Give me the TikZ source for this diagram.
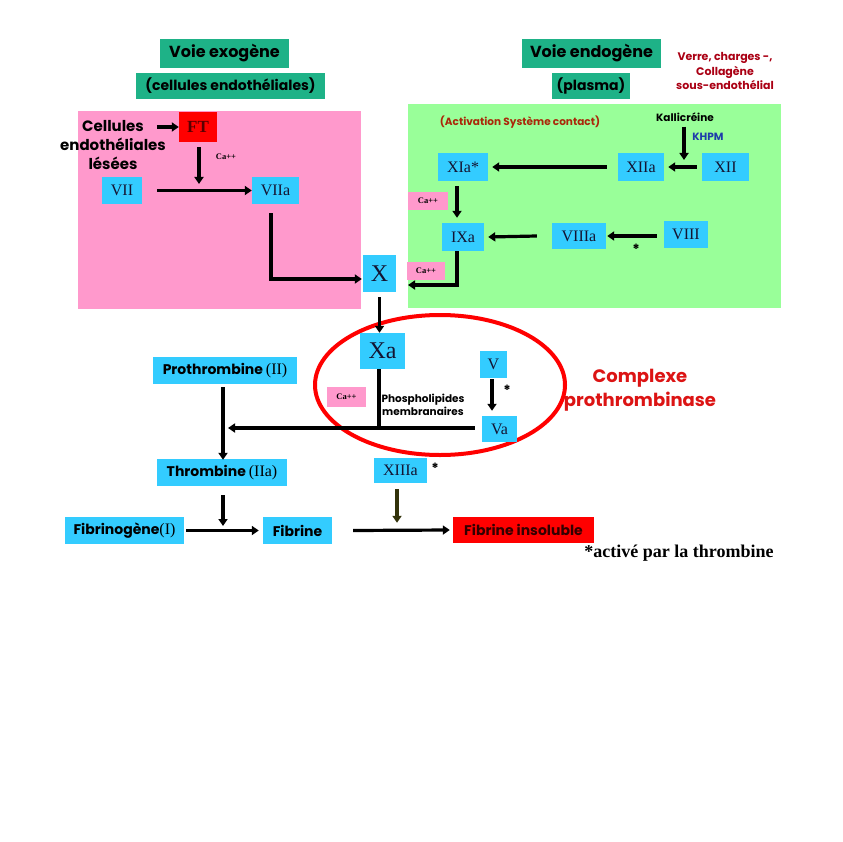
\documentclass[tikz,border=0pt]{standalone}
\usepackage{fontspec}
\setmainfont{Liberation Serif}
\newfontfamily\comic{Poppins}
\usetikzlibrary{arrows.meta}
\definecolor{teal1}{RGB}{30,178,135}
\definecolor{pink1}{RGB}{255,153,204}
\definecolor{green1}{RGB}{153,255,153}
\definecolor{blue1}{RGB}{51,204,255}
\definecolor{red1}{RGB}{255,0,0}
\definecolor{dred}{RGB}{170,0,20}
\definecolor{brred}{RGB}{170,40,10}
\definecolor{cred}{RGB}{220,20,20}
\definecolor{navy1}{RGB}{20,20,50}
\definecolor{olive1}{RGB}{50,50,10}
\definecolor{khblue}{RGB}{30,60,170}
\definecolor{ftred}{RGB}{90,0,0}
\newcommand{\fs}[1]{\fontsize{#1}{#1}\selectfont}
\tikzset{
  titlebox/.style={fill=teal1, inner sep=0pt, font=\comic\bfseries\fs{16}},
  subbox/.style={fill=teal1, inner sep=0pt, font=\comic\bfseries\fs{14}},
  bbox/.style={fill=blue1, inner sep=0pt, text=navy1, font=\fs{16}},
  cbox/.style={fill=blue1, inner sep=0pt, text=black, font=\comic\bfseries\fs{14}},
  cabox/.style={fill=pink1, inner sep=0pt, font=\bfseries\fs{8.5}},
  arr/.style={line width=3.2pt, -{Triangle[length=7pt,width=9pt]}},
  plain/.style={line width=3.2pt},
  lbl/.style={inner sep=0pt, align=center},
}
\begin{document}
\begin{tikzpicture}[x=1pt,y=-1pt]
\useasboundingbox (0,0) rectangle (842,842);
% backgrounds
\fill[pink1] (78,111) rectangle (361,309);
\fill[green1] (408,104) rectangle (781,308);
% titles
\node[titlebox, minimum width=129pt, minimum height=29pt] (exo) at (224.5,53.5) {Voie exogène};
\node[subbox, minimum width=189pt, minimum height=26pt] (cellend) at (230.5,86) {(cellules endothéliales)};
\node[titlebox, minimum width=139pt, minimum height=29pt] (endo) at (591.5,53.5) {Voie endogène};
\node[subbox, minimum width=78pt, minimum height=26pt] (plasma) at (591,86) {(plasma)};
\node[lbl, text=dred, font=\comic\bfseries\fs{11}] (verre) at (725,71) {Verre, charges -,\\[1pt]Collagène\\[1pt]sous-endothélial};
% left pathway
\node[lbl, font=\comic\bfseries\fs{15}] (cel) at (113,145) {Cellules\\[4pt]endothéliales\\[4pt]lésées};
\node[fill=red1, inner sep=0pt, minimum width=38pt, minimum height=30pt, text=ftred, font=\bfseries\fs{17}] (FT) at (198,127) {FT};
\node[lbl, font=\bfseries\fs{8.5}] (ca0) at (226,157) {Ca++};
\node[bbox, minimum width=40pt, minimum height=27pt] (VII) at (122,190.5) {VII};
\node[bbox, minimum width=47pt, minimum height=27pt] (VIIa) at (275.5,190.5) {VIIa};
\node[bbox, minimum width=33pt, minimum height=37pt, font=\fs{24}] (X) at (379.5,273.5) {X};
\coordinate (j1) at (199,190);
\draw[arr] ([xshift=-22pt]FT.west) -- (FT.west);
\draw[arr] ([yshift=-5pt]FT.south -| j1) -- ([yshift=6pt]j1);
\draw[arr] ([xshift=15pt]VII.east) -- (VIIa.west);
\draw[arr] ([xshift=-4.5pt,yshift=-9pt]VIIa.south) |- ([yshift=-5.5pt,xshift=-1pt]X.west);
% right pathway
\node[lbl, text=brred, font=\comic\bfseries\fs{10.5}] (act) at (520,122) {(Activation Système contact)};
\node[lbl, font=\comic\bfseries\fs{10.5}] (kal) at (685,117) {Kallicréine};
\node[lbl, text=khblue, font=\comic\bfseries\fs{10.5}] (khpm) at (708,137) {KHPM};
\node[bbox, minimum width=50pt, minimum height=28pt] (XIa) at (463,167) {XIa*};
\node[bbox, minimum width=46pt, minimum height=28pt] (XIIa) at (641,167) {XIIa};
\node[bbox, minimum width=47pt, minimum height=28pt] (XII) at (725.5,167) {XII};
\node[cabox, minimum width=40pt, minimum height=18pt] (ca1) at (428,201) {Ca++};
\node[bbox, minimum width=42pt, minimum height=28pt] (IXa) at (463,237) {IXa};
\node[bbox, minimum width=54pt, minimum height=26pt] (VIIIa) at (579,236) {VIIIa};
\node[bbox, minimum width=44pt, minimum height=27pt] (VIII) at (686,234.5) {VIII};
\node[cabox, minimum width=38pt, minimum height=18pt] (ca2) at (426,271) {Ca++};
\node[lbl, font=\comic\bfseries\fs{14}] (st1) at (636,249) {*};
\coordinate (kend) at (684,160);
\coordinate (xin) at (408,285);
\draw[arr] (kal.south -| kend) ++(0,-5pt) -- (kend);
\draw[arr] ([xshift=-5pt]XII.west) -- ([xshift=4pt]XIIa.east);
\draw[arr] ([xshift=-11pt]XIIa.west) -- ([xshift=4pt]XIa.east);
\draw[arr] ([xshift=-6pt,yshift=-5pt]XIa.south) -- ([xshift=-6pt,yshift=5pt]XIa.south |- IXa.north);
\draw[arr] ([xshift=-15pt]VIIIa.west) -- ([xshift=4pt]IXa.east);
\draw[arr] ([xshift=-7pt]VIII.west |- VIIIa.west) -- ([xshift=1pt]VIIIa.east);
\draw[arr] ([xshift=-6pt]IXa.south) |- (xin);
% prothrombinase complex
\draw[line width=4pt, red1] (440,385) ellipse [x radius=125, y radius=70];
\node[bbox, minimum width=45pt, minimum height=36pt, font=\fs{24}] (Xa) at (382.5,351) {Xa};
\draw[arr] ([yshift=-5pt]X.south) -- (X.south |- Xa.north);
\node[cbox, minimum width=144pt, minimum height=27pt] (proth) at (225,370.5) {Prothrombine {\rmfamily\mdseries\fs{16}(II)}};
\node[cabox, minimum width=39pt, minimum height=20pt] (ca3) at (346.5,397) {Ca++};
\node[lbl, font=\comic\bfseries\fs{10.5}] (phos) at (423,405) {Phospholipides\\[1pt]membranaires};
\node[bbox, minimum width=27pt, minimum height=27pt] (V) at (493.5,364.5) {V};
\node[bbox, minimum width=35pt, minimum height=26pt] (Va) at (499.5,429) {Va};
\node[lbl, font=\comic\bfseries\fs{14}] (st2) at (507,390) {*};
\node[lbl, text=cred, font=\comic\bfseries\fs{18}] (cplx) at (640,390) {Complexe\\[4pt]prothrombinase};
\coordinate (jx) at (379,428);
\coordinate (pl) at (228,428);
\draw[plain] ([xshift=-3.5pt]Xa.south) -- (jx);
\draw[arr] ([xshift=-7pt]Va.west |- jx) -- (pl);
\draw[arr] ([xshift=-1.5pt,yshift=-1pt]V.south) -- ([xshift=-7.5pt,yshift=5pt]Va.north);
% bottom
\node[cbox, minimum width=130pt, minimum height=27pt] (thr) at (222,472.5) {Thrombine {\rmfamily\mdseries\fs{16}(IIa)}};
\node[bbox, minimum width=53pt, minimum height=25pt] (XIIIa) at (400.5,470.5) {XIIIa};
\node[lbl, font=\comic\bfseries\fs{14}] (st3) at (435,468) {*};
\node[cbox, minimum width=119pt, minimum height=27pt] (fibg) at (124.5,530.5) {Fibrinogène{\rmfamily\mdseries\fs{16}(I)}};
\node[cbox, minimum width=69pt, minimum height=27pt] (fib) at (297.5,530.5) {Fibrine};
\node[fill=red1, inner sep=0pt, minimum width=141pt, minimum height=26pt, font=\comic\bfseries\fs{14}, text=black!80!red] (fibi) at (523.5,530) {Fibrine insoluble};
\node[lbl, font=\bfseries\fs{18}] (note) at (679,553) {*activé par la thrombine};
\coordinate (j2) at (223,531);
\draw[arr] (proth.south -| j2) ++(0,-3pt) -- ([yshift=-1pt]thr.north -| j2);
\draw[arr] ([yshift=-9pt]thr.south -| j2) -- ([yshift=5pt]j2);
\draw[arr] ([xshift=2pt]fibg.east) -- ([xshift=-4pt]fib.west);
\draw[arr] ([xshift=21pt]fib.east) -- ([xshift=-3pt]fibi.west);
\draw[arr, olive1] ([xshift=-3.5pt,yshift=-6pt]XIIIa.south) -- ([xshift=-3.5pt,yshift=-6pt]XIIIa.south |- fibi.north);
\end{tikzpicture}
\end{document}
